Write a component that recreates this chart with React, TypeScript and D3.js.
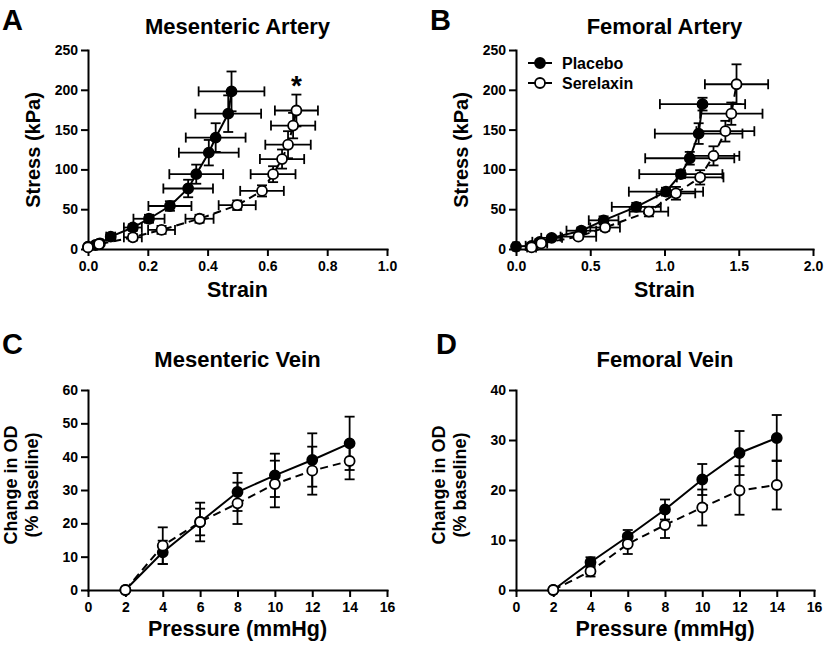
import React, { useRef, useEffect } from "react";
import * as d3 from "d3";

// Panel A: mesenteric artery, stress (kPa) vs strain
const mesArtPlaceboStrain = [0, 0.025, 0.04, 0.076, 0.15, 0.204, 0.274, 0.335, 0.362, 0.404, 0.427, 0.469, 0.48];
const mesArtPlaceboStress = [3, 5, 7, 15.5, 27, 38, 54, 76, 94, 121, 140, 170, 198];
const mesArtPlaceboStrainErr = [0.005, 0.008, 0.01, 0.015, 0.03, 0.052, 0.072, 0.083, 0.09, 0.1, 0.1, 0.11, 0.11];
const mesArtPlaceboStressErr = [1, 1, 2, 3, 4, 5, 6, 11, 12, 16, 18, 23, 25];

const mesArtSerelaxinStrain = [0, 0.037, 0.15, 0.246, 0.373, 0.499, 0.582, 0.619, 0.649, 0.669, 0.686, 0.697];
const mesArtSerelaxinStress = [2, 6, 14.7, 24, 38, 55, 73, 94, 113, 131, 155, 174];
const mesArtSerelaxinStrainErr = [0.005, 0.01, 0.03, 0.045, 0.047, 0.062, 0.073, 0.075, 0.074, 0.076, 0.074, 0.072];
const mesArtSerelaxinStressErr = [1, 2, 4, 5, 5, 6, 7, 10, 12, 17, 16, 20];

// Panel B: femoral artery
const femArtPlaceboStrain = [0, 0.105, 0.16, 0.24, 0.44, 0.59, 0.81, 1.01, 1.11, 1.17, 1.23, 1.256];
const femArtPlaceboStress = [3, 4, 9, 14, 23, 36, 53, 72, 94, 114, 145, 182];
const femArtPlaceboStrainErr = [0.02, 0.04, 0.05, 0.07, 0.1, 0.1, 0.165, 0.25, 0.28, 0.3, 0.295, 0.287];
const femArtPlaceboStressErr = [1, 2, 3, 3, 4, 5, 5, 5, 5, 8, 13, 8];

const femArtSerelaxinStrain = [0.105, 0.17, 0.42, 0.6, 0.895, 1.077, 1.24, 1.33, 1.41, 1.45, 1.485];
const femArtSerelaxinStress = [2, 7, 15.5, 27, 47, 70, 90, 117, 148, 170, 207];
const femArtSerelaxinStrainErr = [0.03, 0.04, 0.12, 0.1, 0.13, 0.13, 0.157, 0.174, 0.195, 0.21, 0.213];
const femArtSerelaxinStressErr = [1, 2, 3, 4, 6, 8, 9, 12, 13, 14, 25];

// Panels C and D: change in OD (% baseline) vs pressure
const pressure = [2, 4, 6, 8, 10, 12, 14];
const mesVeinPlacebo = [0, 11.3, 20.4, 29.4, 34.4, 39, 44];
const mesVeinPlaceboErr = [0, 3.5, 4, 5.7, 6.5, 8, 8];
const mesVeinSerelaxin = [0, 13.3, 20.4, 26, 31.8, 35.8, 38.7];
const mesVeinSerelaxinErr = [0, 5.5, 5.8, 6.2, 7, 7.2, 5.5];

const femVeinPlacebo = [0, 5.55, 10.7, 16.1, 22.1, 27.4, 30.4];
const femVeinPlaceboErr = [0, 1, 1.3, 2, 3.1, 4.4, 4.6];
const femVeinSerelaxin = [0, 3.75, 9.2, 13, 16.5, 19.9, 21];
const femVeinSerelaxinErr = [0, 1.05, 2, 2.6, 3.6, 4.85, 4.9];

const strainTicksA = [0, 0.2, 0.4, 0.6, 0.8, 1.0];
const strainTicksB = [0, 0.5, 1.0, 1.5, 2.0];
const stressTicks = [0, 50, 100, 150, 200, 250];
const pressureTicks = [0, 2, 4, 6, 8, 10, 12, 14, 16];
const odTicksC = [0, 10, 20, 30, 40, 50, 60];
const odTicksD = [0, 10, 20, 30, 40];

const FONT = "Arial, 'Liberation Sans', sans-serif";

const App = () => {
  const svgRef = useRef<SVGSVGElement>(null);

  useEffect(() => {
    const svg = d3.select(svgRef.current);
    svg.selectAll("*").remove();

    const text = (x, y, str, size, opts: any = {}) =>
      svg
        .append("text")
        .attr("x", x)
        .attr("y", y)
        .attr("text-anchor", opts.anchor || "middle")
        .attr("transform", opts.rotate ? `rotate(-90,${x},${y})` : null)
        .style("font-family", FONT)
        .style("font-weight", "bold")
        .style("font-size", size + "px")
        .text(str);

    const drawPanel = (p) => {
      const g = svg.append("g");
      const x = d3.scaleLinear().domain(p.xDomain).range(p.xRange);
      const y = d3.scaleLinear().domain(p.yDomain).range(p.yRange);

      // axes
      const xAxis = g
        .append("g")
        .attr("transform", `translate(0,${p.yRange[0]})`)
        .call(
          d3
            .axisBottom(x)
            .tickValues(p.xTicks)
            .tickFormat(d3.format(p.xFmt))
            .tickSize(7)
            .tickSizeOuter(0)
            .tickPadding(5)
        );
      const yAxis = g
        .append("g")
        .attr("transform", `translate(${p.xRange[0]},0)`)
        .call(
          d3
            .axisLeft(y)
            .tickValues(p.yTicks)
            .tickFormat(d3.format("d"))
            .tickSize(7)
            .tickSizeOuter(0)
            .tickPadding(3)
        );
      [xAxis, yAxis].forEach((a) => {
        a.selectAll("path, line").attr("stroke", "#000").attr("stroke-width", 2);
        a.select(".domain").attr("stroke-linecap", "square");
        a.selectAll("text")
          .attr("fill", "#000")
          .style("font-family", FONT)
          .style("font-weight", "bold")
          .style("font-size", "14px");
      });

      p.series.forEach((s) => {
        const pts = s.xs.map((v, i) => ({
          x: v,
          y: s.ys[i],
          xe: s.xErr ? s.xErr[i] : 0,
          ye: s.yErr ? s.yErr[i] : 0,
        }));
        const cap = 5;
        const eb = g.append("g").attr("stroke", "#000").attr("stroke-width", 1.8);
        pts.forEach((d) => {
          if (d.ye > 0) {
            const y0 = y(d.y - d.ye);
            const y1 = y(d.y + d.ye);
            eb.append("line").attr("x1", x(d.x)).attr("x2", x(d.x)).attr("y1", y0).attr("y2", y1);
            [y0, y1].forEach((yy) =>
              eb.append("line").attr("x1", x(d.x) - cap).attr("x2", x(d.x) + cap).attr("y1", yy).attr("y2", yy)
            );
          }
          if (d.xe > 0) {
            const x0 = x(d.x - d.xe);
            const x1 = x(d.x + d.xe);
            eb.append("line").attr("x1", x0).attr("x2", x1).attr("y1", y(d.y)).attr("y2", y(d.y));
            [x0, x1].forEach((xx) =>
              eb.append("line").attr("x1", xx).attr("x2", xx).attr("y1", y(d.y) - cap).attr("y2", y(d.y) + cap)
            );
          }
        });

        const line = d3
          .line<any>()
          .x((d) => x(d.x))
          .y((d) => y(d.y));
        g.append("path")
          .datum(pts)
          .attr("d", line)
          .attr("fill", "none")
          .attr("stroke", "#000")
          .attr("stroke-width", 2)
          .attr("stroke-dasharray", s.dashed ? "8,5" : null);

        g.selectAll(null)
          .data(pts)
          .enter()
          .append("circle")
          .attr("cx", (d) => x(d.x))
          .attr("cy", (d) => y(d.y))
          .attr("r", 5)
          .attr("fill", s.filled ? "#000" : "#fff")
          .attr("stroke", "#000")
          .attr("stroke-width", 1.8);
      });

      const cx = (p.xRange[0] + p.xRange[1]) / 2;
      text(cx, p.titleY, p.title, 22);
      text(cx, p.xLabelY, p.xLabel, 21.5);
      p.yLabels.forEach((l) => text(p.xRange[0] + l.dx, l.y, l.text, l.size, { rotate: true }));
      text(p.letterX, p.letterY, p.letter, 29, { anchor: "start" });
      return { x, y };
    };

    const placebo = (xs, ys, xErr, yErr) => ({ xs, ys, xErr, yErr, filled: true, dashed: false });
    const serelaxin = (xs, ys, xErr, yErr) => ({ xs, ys, xErr, yErr, filled: false, dashed: true });

    const a = drawPanel({
      xDomain: [0, 1],
      xRange: [88, 387],
      yDomain: [0, 250],
      yRange: [249, 50],
      xTicks: strainTicksA,
      yTicks: stressTicks,
      xFmt: ".1f",
      title: "Mesenteric Artery",
      titleY: 34,
      xLabel: "Strain",
      xLabelY: 297,
      yLabels: [{ text: "Stress (kPa)", dx: -48, y: 150, size: 20 }],
      letter: "A",
      letterX: 2,
      letterY: 30,
      series: [
        placebo(mesArtPlaceboStrain, mesArtPlaceboStress, mesArtPlaceboStrainErr, mesArtPlaceboStressErr),
        serelaxin(mesArtSerelaxinStrain, mesArtSerelaxinStress, mesArtSerelaxinStrainErr, mesArtSerelaxinStressErr),
      ],
    });
    // significance marker above the last serelaxin point
    const last = mesArtSerelaxinStrain.length - 1;
    text(a.x(mesArtSerelaxinStrain[last]), a.y(mesArtSerelaxinStress[last] + mesArtSerelaxinStressErr[last]), "*", 28);

    drawPanel({
      xDomain: [0, 2],
      xRange: [516, 813],
      yDomain: [0, 250],
      yRange: [249, 50],
      xTicks: strainTicksB,
      yTicks: stressTicks,
      xFmt: ".1f",
      title: "Femoral Artery",
      titleY: 34,
      xLabel: "Strain",
      xLabelY: 297,
      yLabels: [{ text: "Stress (kPa)", dx: -48, y: 150, size: 20 }],
      letter: "B",
      letterX: 430,
      letterY: 30,
      series: [
        placebo(femArtPlaceboStrain, femArtPlaceboStress, femArtPlaceboStrainErr, femArtPlaceboStressErr),
        serelaxin(femArtSerelaxinStrain, femArtSerelaxinStress, femArtSerelaxinStrainErr, femArtSerelaxinStressErr),
      ],
    });

    // legend (panel B)
    const legend = [
      { label: "Placebo", filled: true, y: 63 },
      { label: "Serelaxin", filled: false, y: 83 },
    ];
    legend.forEach((l) => {
      svg.append("line").attr("x1", 528).attr("x2", 552).attr("y1", l.y).attr("y2", l.y)
        .attr("stroke", "#000").attr("stroke-width", 2);
      svg.append("circle").attr("cx", 540).attr("cy", l.y).attr("r", 5)
        .attr("fill", l.filled ? "#000" : "#fff").attr("stroke", "#000").attr("stroke-width", 1.8);
      text(562, l.y + 6, l.label, 16, { anchor: "start" });
    });

    drawPanel({
      xDomain: [0, 16],
      xRange: [88, 387],
      yDomain: [0, 60],
      yRange: [590, 390],
      xTicks: pressureTicks,
      yTicks: odTicksC,
      xFmt: "d",
      title: "Mesenteric Vein",
      titleY: 367,
      xLabel: "Pressure (mmHg)",
      xLabelY: 636,
      yLabels: [
        { text: "Change in OD", dx: -71, y: 485, size: 18 },
        { text: "(% baseline)", dx: -50, y: 485, size: 18 },
      ],
      letter: "C",
      letterX: 2,
      letterY: 354,
      series: [
        placebo(pressure, mesVeinPlacebo, null, mesVeinPlaceboErr),
        serelaxin(pressure, mesVeinSerelaxin, null, mesVeinSerelaxinErr),
      ],
    });

    drawPanel({
      xDomain: [0, 16],
      xRange: [516, 814],
      yDomain: [0, 40],
      yRange: [590, 390],
      xTicks: pressureTicks,
      yTicks: odTicksD,
      xFmt: "d",
      title: "Femoral Vein",
      titleY: 367,
      xLabel: "Pressure (mmHg)",
      xLabelY: 636,
      yLabels: [
        { text: "Change in OD", dx: -71, y: 485, size: 18 },
        { text: "(% baseline)", dx: -50, y: 485, size: 18 },
      ],
      letter: "D",
      letterX: 436,
      letterY: 354,
      series: [
        placebo(pressure, femVeinPlacebo, null, femVeinPlaceboErr),
        serelaxin(pressure, femVeinSerelaxin, null, femVeinSerelaxinErr),
      ],
    });
  }, []);

  return (
    <svg
      ref={svgRef}
      width={827}
      height={646}
      style={{ position: "absolute", left: 0, top: 0, background: "#fff" }}
    />
  );
};

export default App;
